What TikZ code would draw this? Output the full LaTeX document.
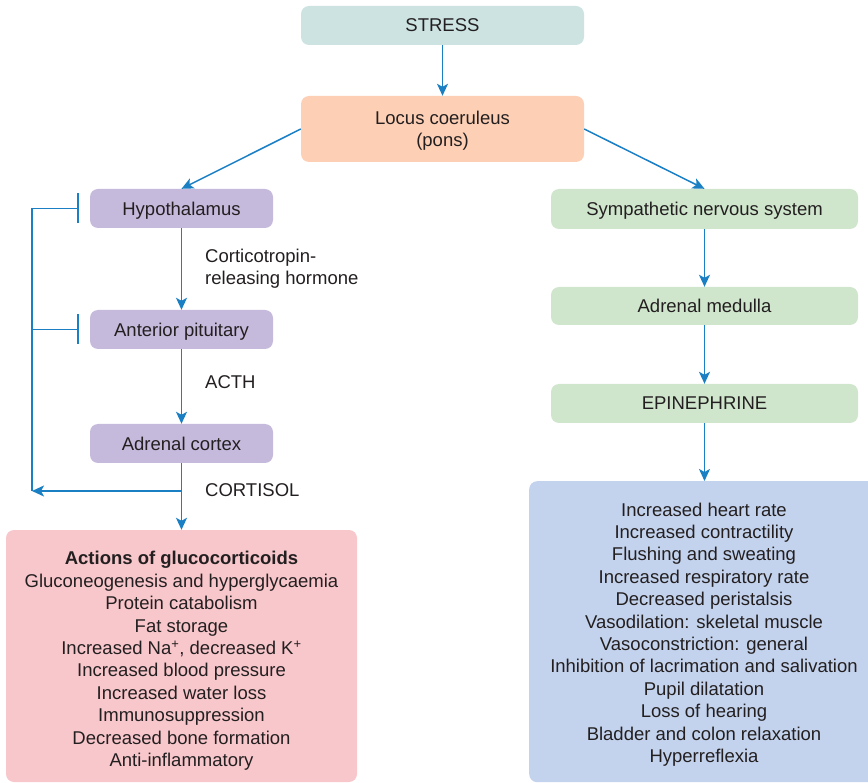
\documentclass[tikz,border=0pt]{standalone}
\usepackage{fontspec}
\setmainfont{Liberation Sans}
\usetikzlibrary{arrows.meta}
\definecolor{inkc}{HTML}{231F20}
\definecolor{linkc}{HTML}{1B7FC4}
\definecolor{stressc}{HTML}{CCE3E2}
\definecolor{locusc}{HTML}{FDD0B5}
\definecolor{hpac}{HTML}{C6BADC}
\definecolor{sympc}{HTML}{CFE6CC}
\definecolor{glucoc}{HTML}{F8C7CB}
\definecolor{epic}{HTML}{C4D3ED}
\begin{document}
\begin{tikzpicture}[x=1pt,y=-1pt,
  txt/.style={text=inkc, font=\fontsize{18.5}{22.4}\selectfont, inner sep=0pt,
    text depth=0pt},
  box/.style={txt, rounded corners=8pt, minimum height=39pt, align=center},
  arr/.style={draw=linkc, line width=1.5pt, -{Stealth[length=12pt,width=11pt,inset=3pt]}},
  fb/.style={draw=linkc, line width=1.5pt},
  inhib/.style={fb, -{Bar[width=30pt,line width=1.5pt]}, shorten >=11pt}]
\useasboundingbox (0,0) rectangle (868,783);

% central trigger
\node[box, fill=stressc, minimum width=283pt] (stress) at (442.5,25.5) {STRESS};
\node[box, fill=locusc, minimum width=283pt, minimum height=66pt] (lc) at (442.5,129) {Locus coeruleus\\(pons)};

% hypothalamic-pituitary-adrenal axis
\node[box, fill=hpac, minimum width=183pt] (hypo) at (181.5,208.5) {Hypothalamus};
\node[box, fill=hpac, minimum width=183pt] (pit) at (181.5,329.5) {Anterior pituitary};
\node[box, fill=hpac, minimum width=183pt] (cortex) at (181.5,443.5) {Adrenal cortex};
\node[box, fill=glucoc, minimum width=351pt, minimum height=252pt] (gluco) at (181.5,656) {};
\node[txt, align=center] (glucotext) at (181.5,659) {\textbf{Actions of glucocorticoids}\\
  Gluconeogenesis and hyperglycaemia\\Protein catabolism\\Fat storage\\
  Increased Na\textsuperscript{+}, decreased K\textsuperscript{+}\\Increased blood pressure\\
  Increased water loss\\Immunosuppression\\Decreased bone formation\\Anti-inflammatory};

% sympathetic branch
\node[box, fill=sympc, minimum width=307pt, minimum height=40pt] (symp) at (704.5,209) {Sympathetic nervous system};
\node[box, fill=sympc, minimum width=307pt, minimum height=38pt] (medulla) at (704.5,306) {Adrenal medulla};
\node[box, fill=sympc, minimum width=307pt] (epi) at (704.5,403.5) {EPINEPHRINE};
\node[box, fill=epic, minimum width=351pt, minimum height=301pt, anchor=north west] (effects) at (529,481) {};
\node[txt, align=center] (effectstext) at (704,632.5) {Increased heart rate\\Increased contractility\\
  Flushing and sweating\\Increased respiratory rate\\Decreased peristalsis\\
  Vasodilation: skeletal muscle\\Vasoconstriction: general\\
  Inhibition of lacrimation and salivation\\Pupil dilatation\\Loss of hearing\\
  Bladder and colon relaxation\\Hyperreflexia};

% hormone labels
\node[txt, align=left, anchor=west] (crh) at (205,266.5) {Corticotropin-\\releasing hormone};
\node[txt, anchor=west] (acth) at (205,382) {ACTH};
\node[txt, anchor=west] (cortisol) at (205,490) {CORTISOL};

% connectors
\draw[arr] (stress) -- (lc);
\draw[arr] (lc.west) -- (hypo.north);
\draw[arr] (lc.east) -- (symp.north);
\draw[arr] (hypo) -- (pit);
\draw[arr] (pit) -- (cortex);
\draw[arr] (cortex) -- (gluco);
\draw[arr] (symp) -- (medulla);
\draw[arr] (medulla) -- (epi);
\draw[arr] (epi.south) -- (epi.south |- effects.north);

% negative feedback of cortisol
\coordinate (fbtop) at (32,208.5);
\coordinate (fbmid) at (32,329.5);
\coordinate (fbbot) at (32,491);
\coordinate (branch) at (181.5,491);
\draw[arr] (branch) -- (fbbot);
\draw[fb] (fbbot) -- (fbtop);
\draw[inhib] (fbtop) -- (hypo.west);
\draw[inhib] (fbmid) -- (pit.west);
\end{tikzpicture}
\end{document}
